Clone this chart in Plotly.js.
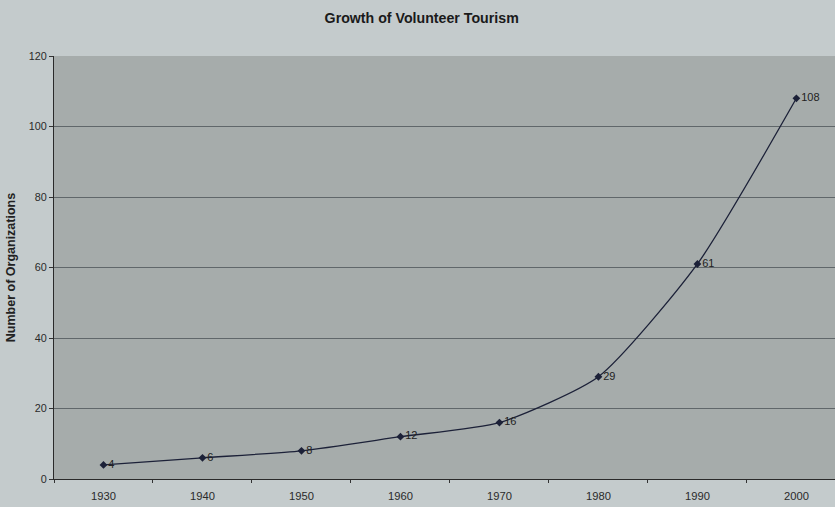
<!DOCTYPE html>
<html><head><meta charset="utf-8">
<script src="https://cdn.plot.ly/plotly-3.0.1.min.js"></script>
<style>html,body{margin:0;padding:0;background:#c4cbcc;}</style>
</head><body>
<div id="chart" style="width:835px;height:507px;"></div>
<script>
const years = ['1930','1940','1950','1960','1970','1980','1990','2000'];
const organizations = [4, 6, 8, 12, 16, 29, 61, 108];
const labels = organizations.map(String);

const trace = {
  x: years, y: organizations, type: 'scatter', mode: 'lines+markers+text',
  line: {color: '#1c2138', width: 1.3, shape: 'spline', smoothing: 0.6},
  marker: {symbol: 'diamond', size: 6, color: '#1c2138'},
  text: labels, textposition: 'middle right',
  textfont: {family: 'Liberation Sans, Arial', size: 11, color: '#222'},
  cliponaxis: false, hoverinfo: 'none'
};
const layout = {
  width: 835, height: 507,
  paper_bgcolor: '#c4cbcc', plot_bgcolor: '#a6acab',
  margin: {l: 54, r: 0, t: 56, b: 28},
  showlegend: false,
  title: {text: '<b>Growth of Volunteer Tourism</b>', x: 0.505, xanchor: 'center', y: 0.965, yanchor: 'middle',
          font: {family: 'Liberation Sans, Arial', size: 14.2, color: '#1a1a1a'}},
  xaxis: {type: 'category', range: [-0.5, 7.39], tickson: 'boundaries', ticks: 'outside', ticklen: 3,
          ticklabelstandoff: 7,
          tickcolor: '#333', showgrid: false, showline: true, linecolor: '#2a2a2a', linewidth: 1,
          tickfont: {family: 'Liberation Sans, Arial', size: 11.2, color: '#2a2a2a'}, fixedrange: true},
  yaxis: {range: [0, 120], dtick: 20, ticks: 'outside', ticklen: 4, tickcolor: '#333',
          showgrid: true, gridcolor: '#60676a', gridwidth: 1, zeroline: false,
          showline: true, linecolor: '#2a2a2a', linewidth: 1,
          tickfont: {family: 'Liberation Sans, Arial', size: 10.8, color: '#2a2a2a'},
          title: {text: '<b>Number of Organizations</b>', standoff: 10,
                  font: {family: 'Liberation Sans, Arial', size: 12.5, color: '#222'}}}
};
Plotly.newPlot('chart', [trace], layout, {staticPlot: true});
</script>
</body></html>
